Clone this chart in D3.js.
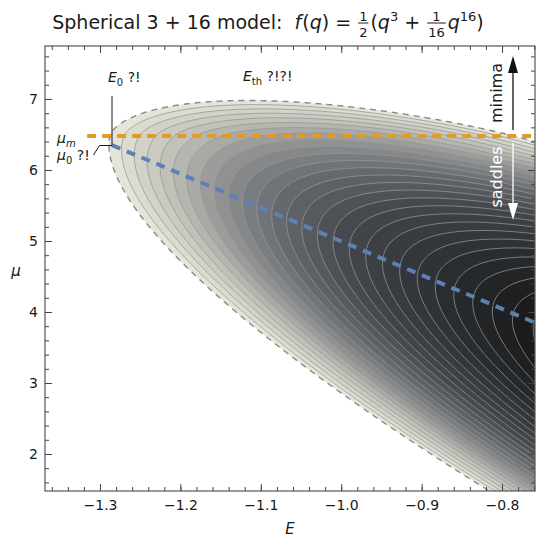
<!DOCTYPE html>
<html>
<head>
<meta charset="utf-8">
<script src="https://cdn.jsdelivr.net/npm/d3@7"></script>
<style>
body { margin: 0; background: #fff; }
svg text { font-family: "DejaVu Sans", sans-serif; fill: #1a1a1a; }
</style>
</head>
<body>
<div id="chart"></div>
<script>
const WIDTH = 536;
const HEIGHT = 540;
const LEFT = 45, RIGHT = 535, TOP = 46, BOTTOM = 491;

// covariance f(q) = sum of weights[k] * q^powers[k]  (from the title)
const powers = [3, 16];
const weights = [1 / 2, 1 / 32];

const xDomain = [-1.3684, -0.759];
const yDomain = [1.479, 7.746];
const xTicks = [-1.3, -1.2, -1.1, -1.0, -0.9, -0.8];
const yTicks = [2, 3, 4, 5, 6, 7];
const xMinorStep = 0.02;
const yMinorStep = 0.2;

// complexity contour levels
const levels = [0, 0.02, 0.04, 0.06, 0.08, 0.10, 0.12, 0.14, 0.16, 0.18, 0.20,
  0.22, 0.24, 0.26, 0.28, 0.30, 0.32, 0.34, 0.36, 0.38, 0.40, 0.42, 0.44,
  0.46, 0.48, 0.50, 0.52, 0.54];

// gray tones
const shadeStops = [0, 0.17, 0.31, 0.46, 0.6, 0.75, 0.9, 1];
const shadeColors = ['#e8e8dc', '#c0c0b8', '#909292', '#65696e', '#474b50', '#33373b', '#222426', '#181818'];

// dashed lines
const marginalE = [-1.316, -0.759];
const marginalMu = [6.48, 6.48];
const typicalE = [-1.285, -0.759];
const typicalMu = [6.35, 3.85];

var x = d3.scaleLinear().domain(xDomain).range([LEFT, RIGHT]);
var y = d3.scaleLinear().domain(yDomain).range([BOTTOM, TOP]);

var fAt = function (k) {
  // k-th derivative of f at q = 1
  return d3.sum(powers, function (p, i) {
    var c = weights[i];
    for (var j = 0; j < k; j++) c *= (p - j);
    return c;
  });
};
var f0 = fAt(0), f1 = fAt(1), f2 = fAt(2);
var det = f0 * (f1 + f2) - f1 * f1;

var complexity = function (E, mu) {
  var R = 2 * Math.sqrt(f2);
  var u = Math.abs(mu) / R;
  var phi = mu * mu / (4 * f2) - 0.5 + 0.5 * Math.log(f2);
  if (u > 1) phi -= u * Math.sqrt(u * u - 1) - Math.log(u + Math.sqrt(u * u - 1));
  var Q = ((f1 + f2) * E * E + 2 * f1 * E * mu + f0 * mu * mu) / det;
  return 0.5 - 0.5 * Math.log(f1) + phi - Q / 2;
};

var svg = d3.select('#chart').append('svg')
  .attr('width', WIDTH)
  .attr('height', HEIGHT);

svg.append('clipPath').attr('id', 'plotClip')
  .append('rect')
  .attr('x', LEFT).attr('y', TOP)
  .attr('width', RIGHT - LEFT).attr('height', BOTTOM - TOP);

// grid on pixels, padded so polygon borders fall outside the clip
var PAD = 3;
var nx = RIGHT - LEFT + 1 + 2 * PAD;
var ny = BOTTOM - TOP + 1 + 2 * PAD;
var values = new Array(nx * ny);
for (var j = 0; j < ny; j++) {
  for (var i = 0; i < nx; i++) {
    values[j * nx + i] = complexity(x.invert(LEFT - PAD + i), y.invert(TOP - PAD + j));
  }
}
var bands = d3.contours().size([nx, ny]).thresholds(levels)(values);

var path = d3.geoPath(d3.geoTransform({
  point: function (px, py) {
    this.stream.point(LEFT - PAD + px - 0.5, TOP - PAD + py - 0.5);
  }
}));

var topLevel = 0.545;
var shade = d3.scaleLinear()
  .domain(shadeStops)
  .range(shadeColors)
  .clamp(true);

var plot = svg.append('g').attr('clip-path', 'url(#plotClip)');

plot.selectAll('path.band')
  .data(bands)
  .enter()
  .append('path')
  .classed('band', true)
  .attr('d', path)
  .attr('fill', function (d, i) {
    var next = i + 1 < levels.length ? levels[i + 1] : topLevel;
    return shade((d.value + next) / 2 / topLevel);
  })
  .attr('stroke', 'none');

plot.selectAll('path.iso')
  .data(bands)
  .enter()
  .append('path')
  .classed('iso', true)
  .attr('d', path)
  .attr('fill', 'none')
  .attr('stroke', function (d) { return d.value === 0 ? '#8a8a8a' : '#969696'; })
  .attr('stroke-opacity', function (d) { return d.value === 0 ? 1 : 0.75; })
  .attr('stroke-width', function (d) { return d.value === 0 ? 1.4 : 1; })
  .attr('stroke-dasharray', function (d) { return d.value === 0 ? '6,5' : null; });

var line = d3.line()
  .x(function (d) { return x(d[0]); })
  .y(function (d) { return y(d[1]); });

plot.append('path')
  .attr('d', line(d3.zip(typicalE, typicalMu)))
  .attr('fill', 'none')
  .attr('stroke', '#5e81b5')
  .attr('stroke-width', 4)
  .attr('stroke-dasharray', '9,7');

plot.append('path')
  .attr('d', line(d3.zip(marginalE, marginalMu)))
  .attr('fill', 'none')
  .attr('stroke', '#e19c24')
  .attr('stroke-width', 4)
  .attr('stroke-dasharray', '9,6');

// frame and ticks on all four sides, pointing inward
var fmt = d3.format('.1f');
var minorX = d3.range(-1.36, -0.759, xMinorStep);
var minorY = d3.range(1.6, 7.746, yMinorStep);

var addAxis = function (axis, tx, ty, labels) {
  var g = svg.append('g')
    .attr('transform', 'translate(' + tx + ',' + ty + ')')
    .call(axis);
  g.select('.domain').remove();
  g.selectAll('line').attr('stroke', '#444');
  g.selectAll('text').style('font-size', '14px').attr('fill', '#1a1a1a');
  if (!labels) g.selectAll('text').remove();
  return g;
};

addAxis(d3.axisBottom(x).tickValues(xTicks).tickSize(-7).tickPadding(9).tickFormat(fmt), 0, BOTTOM, true);
addAxis(d3.axisBottom(x).tickValues(minorX).tickSize(-4), 0, BOTTOM, false);
addAxis(d3.axisTop(x).tickValues(xTicks).tickSize(-7), 0, TOP, false);
addAxis(d3.axisTop(x).tickValues(minorX).tickSize(-4), 0, TOP, false);
addAxis(d3.axisLeft(y).tickValues(yTicks).tickSize(-7).tickPadding(7).tickFormat(d3.format('d')), LEFT, 0, true);
addAxis(d3.axisLeft(y).tickValues(minorY).tickSize(-4), LEFT, 0, false);
addAxis(d3.axisRight(y).tickValues(yTicks).tickSize(-7), RIGHT, 0, false);
addAxis(d3.axisRight(y).tickValues(minorY).tickSize(-4), RIGHT, 0, false);

svg.append('rect')
  .attr('x', LEFT).attr('y', TOP)
  .attr('width', RIGHT - LEFT).attr('height', BOTTOM - TOP)
  .attr('fill', 'none')
  .attr('stroke', '#555')
  .attr('stroke-width', 1.2);

// axis labels
svg.append('text')
  .attr('x', (LEFT + RIGHT) / 2).attr('y', 534)
  .attr('text-anchor', 'middle')
  .style('font-size', '15px').style('font-style', 'italic')
  .text('E');
svg.append('text')
  .attr('x', 16).attr('y', 276)
  .attr('text-anchor', 'middle')
  .style('font-size', '15px').style('font-style', 'italic')
  .text('μ');

// annotations
var note = svg.append('g').style('font-size', '14px');
var e0 = note.append('text').attr('x', 108).attr('y', 82);
e0.append('tspan').style('font-style', 'italic').text('E');
e0.append('tspan').attr('dy', 4).style('font-size', '10px').text('0');
e0.append('tspan').attr('dy', -4).text(' ?!');

var eth = note.append('text').attr('x', 243).attr('y', 81);
eth.append('tspan').style('font-style', 'italic').text('E');
eth.append('tspan').attr('dy', 4).style('font-size', '10px').text('th');
eth.append('tspan').attr('dy', -4).text(' ?!?!');

var mum = note.append('text').attr('x', 57).attr('y', 143);
mum.append('tspan').style('font-style', 'italic').text('μ');
mum.append('tspan').attr('dy', 4).style('font-size', '10px').style('font-style', 'italic').text('m');

var mu0 = note.append('text').attr('x', 57).attr('y', 160);
mu0.append('tspan').style('font-style', 'italic').text('μ');
mu0.append('tspan').attr('dy', 4).style('font-size', '10px').text('0');
mu0.append('tspan').attr('dy', -4).text(' ?!');

svg.append('path')
  .attr('d', 'M112,96 L112,145.5 L99.5,145.5 L93.5,155')
  .attr('fill', 'none')
  .attr('stroke', '#1a1a1a')
  .attr('stroke-width', 1);

// minima / saddles arrows
var AX = 513;
svg.append('line')
  .attr('x1', AX).attr('x2', AX).attr('y1', 130).attr('y2', 70)
  .attr('stroke', '#111').attr('stroke-width', 1.3);
svg.append('path')
  .attr('d', 'M' + AX + ',56 L' + (AX - 5) + ',73 L' + (AX + 5) + ',73 Z')
  .attr('fill', '#111');
svg.append('text')
  .attr('transform', 'translate(502,93) rotate(-90)')
  .attr('text-anchor', 'middle')
  .style('font-size', '16px')
  .text('minima');

svg.append('line')
  .attr('x1', AX).attr('x2', AX).attr('y1', 143).attr('y2', 206)
  .attr('stroke', '#fff').attr('stroke-width', 1.3);
svg.append('path')
  .attr('d', 'M' + AX + ',220 L' + (AX - 5) + ',203 L' + (AX + 5) + ',203 Z')
  .attr('fill', '#fff');
svg.append('text')
  .attr('transform', 'translate(502,177) rotate(-90)')
  .attr('text-anchor', 'middle')
  .style('font-size', '16px')
  .style('fill', '#fff')
  .text('saddles');

// title with stacked fractions
var title = svg.append('g').style('font-size', '19px');
var cursor = 0;
var BASE = 29;
var put = function (txt, opts) {
  opts = opts || {};
  var t = title.append('text')
    .attr('x', cursor)
    .attr('y', BASE + (opts.dy || 0))
    .style('font-size', opts.size || null)
    .style('font-style', opts.italic ? 'italic' : null)
    .style('white-space', 'pre')
    .text(txt);
  cursor += t.node().getComputedTextLength() + (opts.gap || 0);
  return t;
};
var frac = function (num, den) {
  var g = title.append('g');
  var a = g.append('text').attr('y', BASE - 8).attr('text-anchor', 'middle')
    .style('font-size', '13px').text(num);
  var b = g.append('text').attr('y', BASE + 8).attr('text-anchor', 'middle')
    .style('font-size', '13px').text(den);
  var w = Math.max(a.node().getComputedTextLength(), b.node().getComputedTextLength()) + 2;
  a.attr('x', cursor + 1 + w / 2);
  b.attr('x', cursor + 1 + w / 2);
  g.append('line')
    .attr('x1', cursor + 1).attr('x2', cursor + 1 + w)
    .attr('y1', BASE - 6).attr('y2', BASE - 6)
    .attr('stroke', '#1a1a1a').attr('stroke-width', 1);
  cursor += w + 3;
};
put('Spherical 3 + 16 model:  ');
put('f', { italic: true, gap: 1 });
put('(');
put('q', { italic: true });
put(') = ');
frac('1', '2');
put('(');
put('q', { italic: true });
put('3', { size: '13px', dy: -8 });
put(' + ');
frac('1', '16');
put('q', { italic: true });
put('16', { size: '13px', dy: -8 });
put(')');
title.attr('transform', 'translate(' + (268 - cursor / 2) + ',0)');
</script>
</body>
</html>
